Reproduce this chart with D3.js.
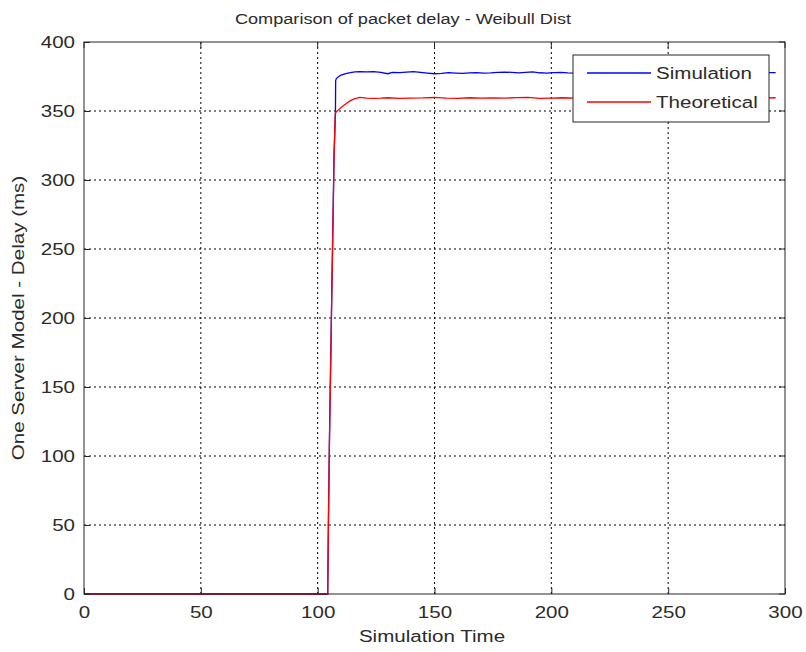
<!DOCTYPE html>
<html>
<head>
<meta charset="utf-8">
<script src="https://cdn.jsdelivr.net/npm/d3@7"></script>
<style>
  body { margin: 0; background: #fff; }
  text { font-family: "Liberation Sans", Arial, sans-serif; fill: #2b2b2b; }
</style>
</head>
<body>
<svg width="806" height="652"></svg>
<script>
const svg = d3.select('svg');

// values
const simTime = [0, 104.3, 104.6, 105, 105.5, 106, 106.5, 107, 107.6, 107.7, 108, 109, 110, 112, 114, 116, 118, 121, 124, 127, 130, 132, 135, 138, 141, 144, 147, 150, 153, 156, 159, 162, 165, 168, 171, 174, 177, 180, 183, 186, 189, 192, 195, 198, 201, 204, 207, 210, 213, 216, 219, 222, 225, 228, 231, 234, 237, 240, 243, 246, 249, 252, 255, 258, 261, 264, 267, 270, 273, 276, 279, 282, 285, 288, 291, 294, 296];
const simDelay = [0, 0, 52, 108, 162, 214, 266, 318, 348, 372, 373.5, 375, 376, 377, 377.8, 378.3, 378.5, 378.4, 378.5, 378, 377, 378, 377.8, 378.2, 378.5, 378, 377.5, 377, 377.3, 377.8, 377.5, 377.2, 377.6, 377.8, 377.4, 377.6, 378, 378.2, 378, 377.6, 378, 378.3, 377.7, 377.5, 377.8, 378, 377.6, 377.4, 377.8, 378, 377.7, 377.5, 377.9, 378, 377.6, 377.8, 378, 377.7, 377.5, 377.9, 378, 377.6, 377.8, 378, 377.7, 377.4, 377.8, 378, 377.6, 377.9, 378, 377.7, 377.5, 377.9, 378, 377.8, 377.8];

const thTime = [0, 104.3, 104.6, 105, 105.5, 106, 106.5, 107, 107.5, 108, 109, 110, 112, 114, 116, 118, 121, 124, 127, 130, 135, 140, 145, 150, 155, 160, 165, 170, 175, 180, 185, 190, 195, 200, 205, 210, 215, 220, 225, 230, 235, 240, 245, 250, 255, 260, 265, 270, 275, 280, 285, 290, 296];
const thDelay = [0, 0, 50, 105, 158, 212, 262, 315, 348, 349.5, 351, 352.5, 355, 357.5, 359, 359.8, 359.3, 359.2, 359.3, 359.6, 359.2, 359.4, 359.5, 359.8, 359.3, 359.2, 359.6, 359.4, 359.5, 359.3, 359.7, 359.8, 359.2, 359.4, 359.6, 359.3, 359.5, 359.7, 359.3, 359.4, 359.6, 359.8, 359.2, 359.4, 359.6, 359.3, 359.5, 359.4, 359.6, 359.3, 359.5, 359.4, 359.6];

const xTicks = [0, 50, 100, 150, 200, 250, 300];
const yTicks = [0, 50, 100, 150, 200, 250, 300, 350, 400];
const seriesNames = ['Simulation', 'Theoretical'];
const seriesColors = ['#0000ff', '#ff0000'];

const pLeft = 84, pRight = 785, pTop = 42, pBottom = 594;
const wide = 'scale(1.21,1)'; // the original font is drawn wider

const x = d3.scaleLinear().domain([0, 300]).range([pLeft, pRight]);
const y = d3.scaleLinear().domain([0, 400]).range([pBottom, pTop]);

// grid
const grid = svg.append('g');
grid.selectAll('.vg').data(xTicks.slice(1, -1)).enter().append('line')
  .attr('x1', d => x(d)).attr('x2', d => x(d))
  .attr('y1', pTop).attr('y2', pBottom)
  .attr('stroke', '#000').attr('stroke-width', 1).attr('stroke-dasharray', '2,3');
grid.selectAll('.hg').data(yTicks.slice(1, -1)).enter().append('line')
  .attr('x1', pLeft).attr('x2', pRight)
  .attr('y1', d => y(d)).attr('y2', d => y(d))
  .attr('stroke', '#000').attr('stroke-width', 1).attr('stroke-dasharray', '2,3');

// lines
const line = d3.line().x(d => x(d[0])).y(d => y(d[1]));
svg.append('path').datum(d3.zip(simTime, simDelay))
  .attr('d', line).attr('fill', 'none').attr('stroke', seriesColors[0]).attr('stroke-width', 1.3);
svg.append('path').datum(d3.zip(thTime, thDelay))
  .attr('d', line).attr('fill', 'none').attr('stroke', seriesColors[1]).attr('stroke-width', 1.3);

// axes box
svg.append('rect').attr('x', pLeft).attr('y', pTop)
  .attr('width', pRight - pLeft).attr('height', pBottom - pTop)
  .attr('fill', 'none').attr('stroke', '#262626').attr('stroke-width', 1);

const xAxis = svg.append('g').attr('transform', `translate(0,${pBottom})`)
  .call(d3.axisBottom(x).tickValues(xTicks).tickSizeInner(-6).tickSizeOuter(0).tickPadding(12));
const yAxis = svg.append('g').attr('transform', `translate(${pLeft},0)`)
  .call(d3.axisLeft(y).tickValues(yTicks).tickSizeInner(-6).tickSizeOuter(0).tickPadding(9));
[xAxis, yAxis].forEach(a => {
  a.select('.domain').remove();
  a.selectAll('line').attr('stroke', '#262626');
  a.selectAll('text').style('font-size', '17px').style('font-family', '"Liberation Sans", Arial, sans-serif')
    .attr('fill', '#2b2b2b').attr('transform', wide);
});
yAxis.selectAll('text').attr('x', -9 / 1.21);

// top/right ticks
svg.selectAll('.tt').data(xTicks).enter().append('line')
  .attr('x1', d => x(d)).attr('x2', d => x(d)).attr('y1', pTop).attr('y2', pTop + 6).attr('stroke', '#262626');
svg.selectAll('.rt').data(yTicks).enter().append('line')
  .attr('x1', pRight).attr('x2', pRight - 6).attr('y1', d => y(d)).attr('y2', d => y(d)).attr('stroke', '#262626');

// labels
svg.append('text').attr('transform', `translate(403,24) ${wide}`).attr('text-anchor', 'middle')
  .style('font-size', '15px').text('Comparison of packet delay - Weibull Dist');
svg.append('text').attr('transform', `translate(432,642) ${wide}`).attr('text-anchor', 'middle')
  .style('font-size', '17px').text('Simulation Time');
svg.append('text').attr('transform', `translate(24,318) rotate(-90) ${wide}`).attr('text-anchor', 'middle')
  .style('font-size', '17px').text('One Server Model - Delay (ms)');

// legend
const lg = svg.append('g');
lg.append('rect').attr('x', 573).attr('y', 55).attr('width', 196).attr('height', 67)
  .attr('fill', '#fff').attr('stroke', '#262626').attr('stroke-width', 1);
seriesNames.forEach((name, i) => {
  const ly = 73 + i * 29;
  lg.append('line').attr('x1', 587).attr('x2', 651).attr('y1', ly).attr('y2', ly)
    .attr('stroke', seriesColors[i]).attr('stroke-width', 1.3);
  lg.append('text').attr('transform', `translate(656,${ly + 6}) ${wide}`).style('font-size', '17px').text(name);
});
</script>
</body>
</html>
